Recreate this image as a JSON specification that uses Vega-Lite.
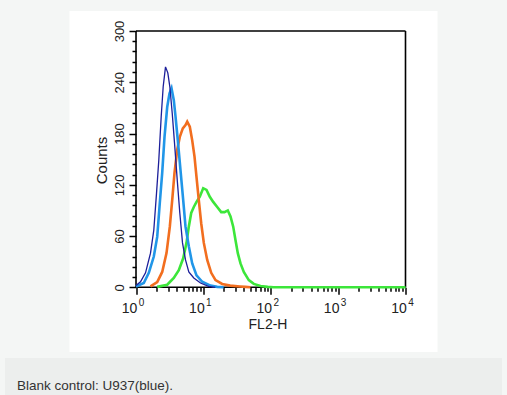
{
  "$schema": "https://vega.github.io/schema/vega-lite/v6.json",
  "background": "#f4f6f5",
  "padding": {"left": 5, "top": 11, "right": 5, "bottom": 0},
  "spacing": 6,
  "center": true,
  "config": {"font": "Liberation Sans", "view": {"stroke": null}},
  "datasets": {
    "frame": [
      {"side": "bottom", "v": 1, "v2": 10000, "c": 0, "c2": 0},
      {"side": "top", "v": 1, "v2": 10000, "c": 300, "c2": 300},
      {"side": "left", "v": 1, "v2": 1, "c": 0, "c2": 300},
      {"side": "right", "v": 10000, "v2": 10000, "c": 0, "c2": 300}
    ],
    "hist": [
      {"s": "navy", "v": 1.0, "c": 2},
      {"s": "navy", "v": 1.166, "c": 6.5},
      {"s": "navy", "v": 1.384, "c": 17},
      {"s": "navy", "v": 1.641, "c": 40},
      {"s": "navy", "v": 1.837, "c": 67},
      {"s": "navy", "v": 2.015, "c": 110},
      {"s": "navy", "v": 2.18, "c": 149},
      {"s": "navy", "v": 2.366, "c": 200},
      {"s": "navy", "v": 2.533, "c": 235},
      {"s": "navy", "v": 2.741, "c": 258},
      {"s": "navy", "v": 2.965, "c": 251},
      {"s": "navy", "v": 3.176, "c": 235},
      {"s": "navy", "v": 3.446, "c": 204},
      {"s": "navy", "v": 3.727, "c": 169},
      {"s": "navy", "v": 4.088, "c": 126},
      {"s": "navy", "v": 4.469, "c": 87},
      {"s": "navy", "v": 4.9, "c": 52},
      {"s": "navy", "v": 5.429, "c": 32},
      {"s": "navy", "v": 6.077, "c": 18},
      {"s": "navy", "v": 7.21, "c": 11},
      {"s": "navy", "v": 9.064, "c": 5},
      {"s": "navy", "v": 11.92, "c": 1},
      {"s": "navy", "v": 15, "c": 0},
      {"s": "blue", "v": 1.0, "c": 1},
      {"s": "blue", "v": 1.305, "c": 5},
      {"s": "blue", "v": 1.549, "c": 17},
      {"s": "blue", "v": 1.837, "c": 36},
      {"s": "blue", "v": 2.064, "c": 59},
      {"s": "blue", "v": 2.256, "c": 99},
      {"s": "blue", "v": 2.448, "c": 134},
      {"s": "blue", "v": 2.649, "c": 176},
      {"s": "blue", "v": 2.905, "c": 211},
      {"s": "blue", "v": 3.143, "c": 227},
      {"s": "blue", "v": 3.365, "c": 233},
      {"s": "blue", "v": 3.639, "c": 219},
      {"s": "blue", "v": 3.857, "c": 200},
      {"s": "blue", "v": 4.173, "c": 172},
      {"s": "blue", "v": 4.577, "c": 137},
      {"s": "blue", "v": 5.018, "c": 102},
      {"s": "blue", "v": 5.429, "c": 71},
      {"s": "blue", "v": 6.077, "c": 48},
      {"s": "blue", "v": 6.826, "c": 28},
      {"s": "blue", "v": 7.907, "c": 14},
      {"s": "blue", "v": 9.607, "c": 6.5},
      {"s": "blue", "v": 12.76, "c": 2},
      {"s": "blue", "v": 16.04, "c": 0.5},
      {"s": "blue", "v": 20, "c": 0},
      {"s": "orange", "v": 1.641, "c": 1},
      {"s": "orange", "v": 2.064, "c": 6},
      {"s": "orange", "v": 2.448, "c": 18},
      {"s": "orange", "v": 2.836, "c": 40},
      {"s": "orange", "v": 3.176, "c": 71},
      {"s": "orange", "v": 3.446, "c": 102},
      {"s": "orange", "v": 3.727, "c": 134},
      {"s": "orange", "v": 4.088, "c": 161},
      {"s": "orange", "v": 4.469, "c": 176},
      {"s": "orange", "v": 4.95, "c": 186},
      {"s": "orange", "v": 5.429, "c": 190},
      {"s": "orange", "v": 5.754, "c": 194},
      {"s": "orange", "v": 6.288, "c": 188},
      {"s": "orange", "v": 6.826, "c": 172},
      {"s": "orange", "v": 7.385, "c": 153},
      {"s": "orange", "v": 7.907, "c": 129},
      {"s": "orange", "v": 8.551, "c": 102},
      {"s": "orange", "v": 9.284, "c": 75},
      {"s": "orange", "v": 10.15, "c": 52},
      {"s": "orange", "v": 11.4, "c": 32},
      {"s": "orange", "v": 13.07, "c": 17},
      {"s": "orange", "v": 15.14, "c": 8.5},
      {"s": "orange", "v": 19.03, "c": 4},
      {"s": "orange", "v": 25, "c": 2},
      {"s": "orange", "v": 35, "c": 1},
      {"s": "orange", "v": 42.19, "c": 0.5},
      {"s": "orange", "v": 50, "c": 0},
      {"s": "green", "v": 2.064, "c": 0.5},
      {"s": "green", "v": 2.905, "c": 3},
      {"s": "green", "v": 3.639, "c": 11},
      {"s": "green", "v": 4.318, "c": 20},
      {"s": "green", "v": 5.018, "c": 34},
      {"s": "green", "v": 5.618, "c": 52},
      {"s": "green", "v": 6.077, "c": 71},
      {"s": "green", "v": 6.597, "c": 87},
      {"s": "green", "v": 7.21, "c": 94},
      {"s": "green", "v": 7.907, "c": 100},
      {"s": "green", "v": 8.849, "c": 106},
      {"s": "green", "v": 9.94, "c": 116},
      {"s": "green", "v": 11.13, "c": 114},
      {"s": "green", "v": 12.46, "c": 106},
      {"s": "green", "v": 13.99, "c": 100},
      {"s": "green", "v": 16.04, "c": 94},
      {"s": "green", "v": 18.39, "c": 88},
      {"s": "green", "v": 20.59, "c": 88},
      {"s": "green", "v": 23.04, "c": 90},
      {"s": "green", "v": 25.27, "c": 83},
      {"s": "green", "v": 27.72, "c": 71},
      {"s": "green", "v": 29.99, "c": 55},
      {"s": "green", "v": 32.43, "c": 40},
      {"s": "green", "v": 35.56, "c": 28},
      {"s": "green", "v": 39.81, "c": 18},
      {"s": "green", "v": 47.23, "c": 8.5},
      {"s": "green", "v": 56.03, "c": 4},
      {"s": "green", "v": 70.45, "c": 1.5},
      {"s": "green", "v": 90, "c": 0.5},
      {"s": "green", "v": 110, "c": 0},
      {"s": "green", "v": 10000, "c": 0}
    ]
  },
  "vconcat": [
    {
      "width": 368,
      "height": 341,
      "view": {"fill": "white", "stroke": null},
      "resolve": {"axis": {"x": "independent"}},
      "encoding": {
        "x": {
          "field": "v",
          "type": "quantitative",
          "scale": {"type": "log", "domain": [0.103, 29854], "nice": false},
          "axis": null
        },
        "y": {
          "field": "c",
          "type": "quantitative",
          "scale": {"domain": [-75.7, 323.4], "nice": false, "zero": false},
          "axis": {
            "values": [0, 12, 24, 36, 48, 60, 72, 84, 96, 108, 120, 132, 144, 156, 168, 180, 192, 204, 216, 228, 240, 252, 264, 276, 288, 300],
            "offset": -66.5,
            "domain": false,
            "grid": false,
            "title": "Counts",
            "titleFontSize": 15,
            "titleFontWeight": "normal",
            "titleColor": "#222",
            "titlePadding": 4,
            "titleY": 149,
            "labelExpr": "datum.value % 60 == 0 ? datum.label : ''",
            "labelAngle": 270,
            "labelAlign": "center",
            "labelBaseline": "bottom",
            "labelFontSize": 13,
            "labelColor": "#222",
            "labelPadding": 3,
            "labelOverlap": false,
            "labelFlush": false,
            "tickColor": "black",
            "tickWidth": 1.5,
            "tickSize": {"condition": {"test": "datum.value % 60 == 0", "value": 7}, "value": 4}
          }
        }
      },
      "layer": [
        {
          "data": {"name": "frame"},
          "mark": {"type": "rule", "color": "black", "strokeWidth": 1.6},
          "encoding": {
            "x": {
              "field": "v",
              "type": "quantitative",
              "scale": {"type": "log", "domain": [0.103, 29854], "nice": false},
              "axis": {
                "orient": "bottom",
                "values": [1, 2, 3, 4, 5, 6, 7, 8, 9, 10, 20, 30, 40, 50, 60, 70, 80, 90, 100, 200, 300, 400, 500, 600, 700, 800, 900, 1000, 2000, 3000, 4000, 5000, 6000, 7000, 8000, 9000, 10000],
                "offset": -64.7,
                "domain": false,
                "grid": false,
                "title": "FL2-H",
                "titleFontSize": 14,
                "titleFontWeight": "normal",
                "titleColor": "#222",
                "titlePadding": 2,
                "titleX": 198,
                "labelExpr": "(datum.value == 1 || datum.value == 10 || datum.value == 100 || datum.value == 1000 || datum.value == 10000) ? '10' : ''",
                "labelFontSize": 14,
                "labelColor": "#222",
                "labelPadding": 7,
                "labelOffset": -7,
                "labelOverlap": false,
                "labelFlush": false,
                "tickColor": "black",
                "tickWidth": 1.5,
                "tickSize": {"condition": {"test": "datum.value == 1 || datum.value == 10 || datum.value == 100 || datum.value == 1000 || datum.value == 10000", "value": 7}, "value": 4}
              }
            },
            "x2": {"field": "v2"},
            "y2": {"field": "c2"}
          }
        },
        {
          "data": {"name": "hist"},
          "transform": [{"filter": "datum.s == 'green'"}],
          "mark": {"type": "line", "interpolate": "linear", "color": "#3ce63a", "strokeWidth": 2.6},
          "encoding": {
            "x": {
              "field": "v",
              "type": "quantitative",
              "scale": {"type": "log", "domain": [0.103, 29854], "nice": false},
              "axis": {
                "orient": "bottom",
                "values": [1, 10, 100, 1000, 10000],
                "offset": -64.7,
                "domain": false,
                "grid": false,
                "ticks": false,
                "tickSize": 0,
                "title": null,
                "labelExpr": "datum.value == 1 ? '0' : datum.value == 10 ? '1' : datum.value == 100 ? '2' : datum.value == 1000 ? '3' : '4'",
                "labelFontSize": 10,
                "labelColor": "#222",
                "labelPadding": 10,
                "labelOffset": 5,
                "labelOverlap": false,
                "labelFlush": false
              }
            }
          }
        },
        {
          "data": {"name": "hist"},
          "transform": [{"filter": "datum.s == 'orange'"}],
          "mark": {"type": "line", "interpolate": "linear", "color": "#f26e1f", "strokeWidth": 2.6}
        },
        {
          "data": {"name": "hist"},
          "transform": [{"filter": "datum.s == 'blue'"}],
          "mark": {"type": "line", "interpolate": "linear", "color": "#2196e8", "strokeWidth": 2.6}
        },
        {
          "data": {"name": "hist"},
          "transform": [{"filter": "datum.s == 'navy'"}],
          "mark": {"type": "line", "interpolate": "linear", "color": "#1c1f9a", "strokeWidth": 1.3}
        }
      ]
    },
    {
      "width": 497,
      "height": 37,
      "view": {"fill": "#eceeed", "stroke": null},
      "data": {"values": [{"band": "caption"}]},
      "mark": {"type": "rect", "color": "#eceeed"},
      "encoding": {},
      "title": {
        "text": "Blank control: U937(blue).",
        "orient": "bottom",
        "anchor": "start",
        "frame": "group",
        "baseline": "alphabetic",
        "offset": -5.5,
        "dx": 12,
        "fontSize": 13.5,
        "fontWeight": "normal",
        "color": "#333"
      }
    }
  ]
}
